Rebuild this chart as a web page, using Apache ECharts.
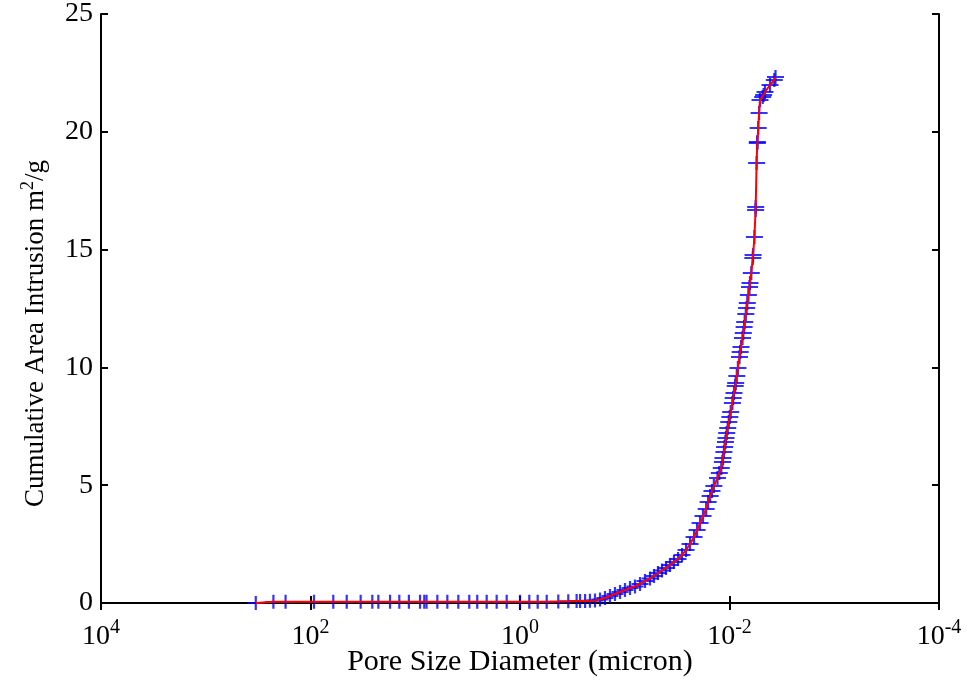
<!DOCTYPE html>
<html>
<head>
<meta charset="utf-8">
<script src="https://cdn.jsdelivr.net/npm/echarts@6/dist/echarts.min.js"></script>
<style>html,body{margin:0;padding:0;background:#fff}#c{width:967px;height:685px}</style>
</head>
<body>
<div id="c"></div>
<script>
// Pore size diameter (micron)
var diameters = [
  333, 226, 173, 92.6, 60.6, 45.1, 33.2, 25.7, 22.5, 17.4, 14.2, 11.5, 9.0, 8.2, 7.8, 6.15, 4.94, 3.88, 3.05, 2.56, 2.08, 1.67, 1.34, 1.0, 0.815, 0.678, 0.556, 0.431, 0.346, 0.288, 0.267, 0.239, 0.215,
  0.1923, 0.1722, 0.1545, 0.1384, 0.1239, 0.1109, 0.0995, 0.0891, 0.0798, 0.0715, 0.0641, 0.0574, 0.0526, 0.0482, 0.0441, 0.0404, 0.0370, 0.0339, 0.0310, 0.0284, 0.0260, 0.0238, 0.0218, 0.0204, 0.0191, 0.0179, 0.0167, 0.0160, 0.0153, 0.0147, 0.0141,
  0.01302, 0.01251, 0.01198, 0.01169, 0.01154, 0.01131, 0.01114, 0.01094, 0.01080, 0.01063, 0.01040, 0.01016, 0.009934, 0.009739, 0.009382, 0.009220, 0.009058, 0.008823, 0.008726, 0.008517, 0.008313, 0.008025, 0.007904, 0.007765, 0.007514, 0.007384, 0.007254, 0.007159, 0.006988, 0.006867, 0.006762, 0.006600, 0.006443, 0.006372, 0.006192, 0.005992, 0.005952, 0.005784, 0.005633, 0.005622, 0.005511, 0.005427, 0.005416, 0.005321, 0.005217, 0.005114, 0.004820, 0.004726, 0.004582, 0.004105, 0.003735, 0.003638
];
// Cumulative area intrusion (m^2/g)
var areas = [
  0.0, 0.05, 0.05, 0.05, 0.05, 0.05, 0.05, 0.05, 0.05, 0.05, 0.05, 0.05, 0.05, 0.05, 0.05, 0.05, 0.05, 0.05, 0.05, 0.05, 0.05, 0.05, 0.05, 0.05, 0.05, 0.05, 0.05, 0.06, 0.07, 0.08, 0.08, 0.09, 0.10,
  0.106, 0.149, 0.212, 0.297, 0.382, 0.467, 0.552, 0.637, 0.700, 0.806, 0.934, 1.04, 1.146, 1.273, 1.379, 1.486, 1.613, 1.740, 1.868, 2.037, 2.250, 2.504, 2.801, 3.098, 3.396, 3.693, 3.990, 4.287, 4.542, 4.754, 4.966,
  5.306, 5.518, 5.730, 5.985, 6.154, 6.409, 6.621, 6.834, 7.003, 7.216, 7.428, 7.683, 7.895, 8.107, 8.489, 8.701, 8.913, 9.211, 9.338, 9.635, 9.975, 10.441, 10.654, 10.866, 11.248, 11.460, 11.715, 11.927, 12.267, 12.521, 12.733, 13.073, 13.413, 13.582, 14.007, 14.643, 14.771, 15.535, 16.681, 16.808, 18.676, 19.525, 19.567, 20.161, 20.798, 21.350, 21.477, 21.562, 21.689, 21.986, 22.199, 22.326
];
var xTicks = [1e4, 1e2, 1e0, 1e-2, 1e-4];
var yTicks = [0, 5, 10, 15, 20, 25];
var xLabel = 'Pore Size Diameter (micron)';
var yLabelMain = 'Cumulative Area Intrusion m';
var yLabelSup = '2';
var yLabelTail = '/g';

var points = diameters.map(function (d, i) { return [d, areas[i]]; });
var FONT = '"Liberation Serif", "Times New Roman", serif';

var chart = echarts.init(document.getElementById('c'), null, {renderer: 'canvas'});

var tickRich = {
  b: {fontFamily: FONT, fontSize: 28, color: '#000'},
  s: {fontFamily: FONT, fontSize: 20, color: '#000', padding: [0, 0, 17, 0]}
};

var baseX = {
  type: 'log', logBase: 10, min: 1e-4, max: 1e4, interval: 2, inverse: true,
  axisLine: {show: true, lineStyle: {color: '#000', width: 2}},
  axisTick: {show: true, inside: true, length: 7, lineStyle: {color: '#000', width: 2}},
  minorTick: {show: false},
  splitLine: {show: false}
};
var baseY = {
  type: 'value', min: 0, max: 25, interval: 5,
  axisLine: {show: true, lineStyle: {color: '#000', width: 2}},
  axisTick: {show: true, inside: true, length: 7, lineStyle: {color: '#000', width: 2}},
  splitLine: {show: false}
};

var option = {
  animation: false,
  backgroundColor: '#fff',
  grid: {left: 101, right: 28, top: 14, bottom: 82, containLabel: false, outerBoundsMode: 'none'},
  xAxis: [
    Object.assign({}, baseX, {
      position: 'bottom',
      name: xLabel, nameLocation: 'middle', nameGap: 44, nameMoveOverlap: false,
      nameTextStyle: {fontFamily: FONT, fontSize: 30, color: '#000'},
      axisLabel: {
        show: true, margin: 15, color: '#000',
        formatter: function (v) {
          var e = Math.round(Math.log10(v));
          return '{b|10}{s|' + e + '}';
        },
        rich: tickRich
      }
    }),
    Object.assign({}, baseX, {position: 'top', axisLabel: {show: false}})
  ],
  yAxis: [
    Object.assign({}, baseY, {
      position: 'left',
      name: '{n|' + yLabelMain + '}{s|' + yLabelSup + '}{n|' + yLabelTail + '}',
      nameLocation: 'middle', nameGap: 48, nameRotate: 90,
      nameTextStyle: {
        padding: [0, 50, 0, 0],
        rich: {
          n: {fontFamily: FONT, fontSize: 27, color: '#000'},
          s: {fontFamily: FONT, fontSize: 18, color: '#000', padding: [0, 0, 16, 0]}
        }
      },
      axisLabel: {show: true, margin: 8, fontFamily: FONT, fontSize: 28, color: '#000'}
    }),
    Object.assign({}, baseY, {position: 'right', axisLabel: {show: false}})
  ],
  series: [
    {
      type: 'scatter', xAxisIndex: 0, yAxisIndex: 0, data: points,
      symbol: 'path://M0,-1L0,1M-1,0L1,0', symbolSize: [17, 14],
      itemStyle: {color: '#0000ff', borderColor: '#0000ff', borderWidth: 2},
      z: 2, silent: true
    },
    {
      type: 'line', xAxisIndex: 0, yAxisIndex: 0, data: points,
      showSymbol: false, symbol: 'none',
      lineStyle: {color: '#ff0000', width: 2},
      z: 3, silent: true
    }
  ]
};
chart.setOption(option);
</script>
</body>
</html>
